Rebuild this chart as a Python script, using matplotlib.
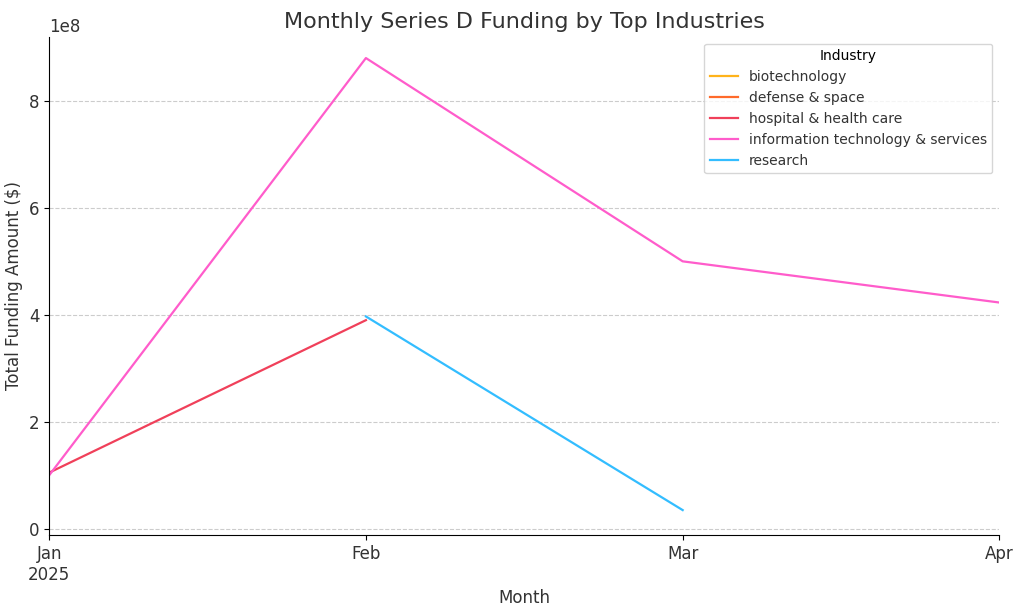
import matplotlib
matplotlib.use("Agg")
import matplotlib.pyplot as plt
import numpy as np

months = ["Jan\n2025", "Feb", "Mar", "Apr"]
industries = ["biotechnology", "defense & space", "hospital & health care",
              "information technology & services", "research"]
biotech = [np.nan, np.nan, 2.5e8, np.nan]
defense = [np.nan, 3.0e8, np.nan, np.nan]
hospital = [1.05e8, 3.9e8, np.nan, np.nan]
infotech = [1.0e8, 8.8e8, 5.0e8, 4.23e8]
research = [np.nan, 3.97e8, 0.35e8, np.nan]
series = [biotech, defense, hospital, infotech, research]
colors = ["#FFB31A", "#FF6A2B", "#F0405A", "#FF5CCB", "#33BDFF"]

fig = plt.figure(figsize=(10.24, 6.11), dpi=100)
ax = fig.add_axes([0.048, 0.124, 0.928, 0.816])
x = np.arange(len(months))
for name, vals, c in zip(industries, series, colors):
    ax.plot(x, vals, color=c, lw=1.6, label=name)

ax.set_xlim(0, 3)
ax.set_ylim(-0.12e8, 9.2e8)
ax.set_xticks(x)
ax.set_xticklabels(months, fontsize=12, color="#333333")
ax.tick_params(axis="y", labelsize=12, labelcolor="#333333")
ax.grid(axis="y", linestyle="--", color="#cccccc", lw=0.8)
for s in ["top", "right"]:
    ax.spines[s].set_visible(False)
ax.yaxis.get_offset_text().set_fontsize(12)
ax.set_title("Monthly Series D Funding by Top Industries", fontsize=16, color="#333333")
ax.set_xlabel("Month", fontsize=12, color="#333333")
ax.set_ylabel("Total Funding Amount ($)", fontsize=12, color="#333333")
leg = ax.legend(title="Industry", loc="upper right", fontsize=10, title_fontsize=10)
for t in leg.get_texts():
    t.set_color("#333333")
fig.savefig("out.png", dpi=100)
